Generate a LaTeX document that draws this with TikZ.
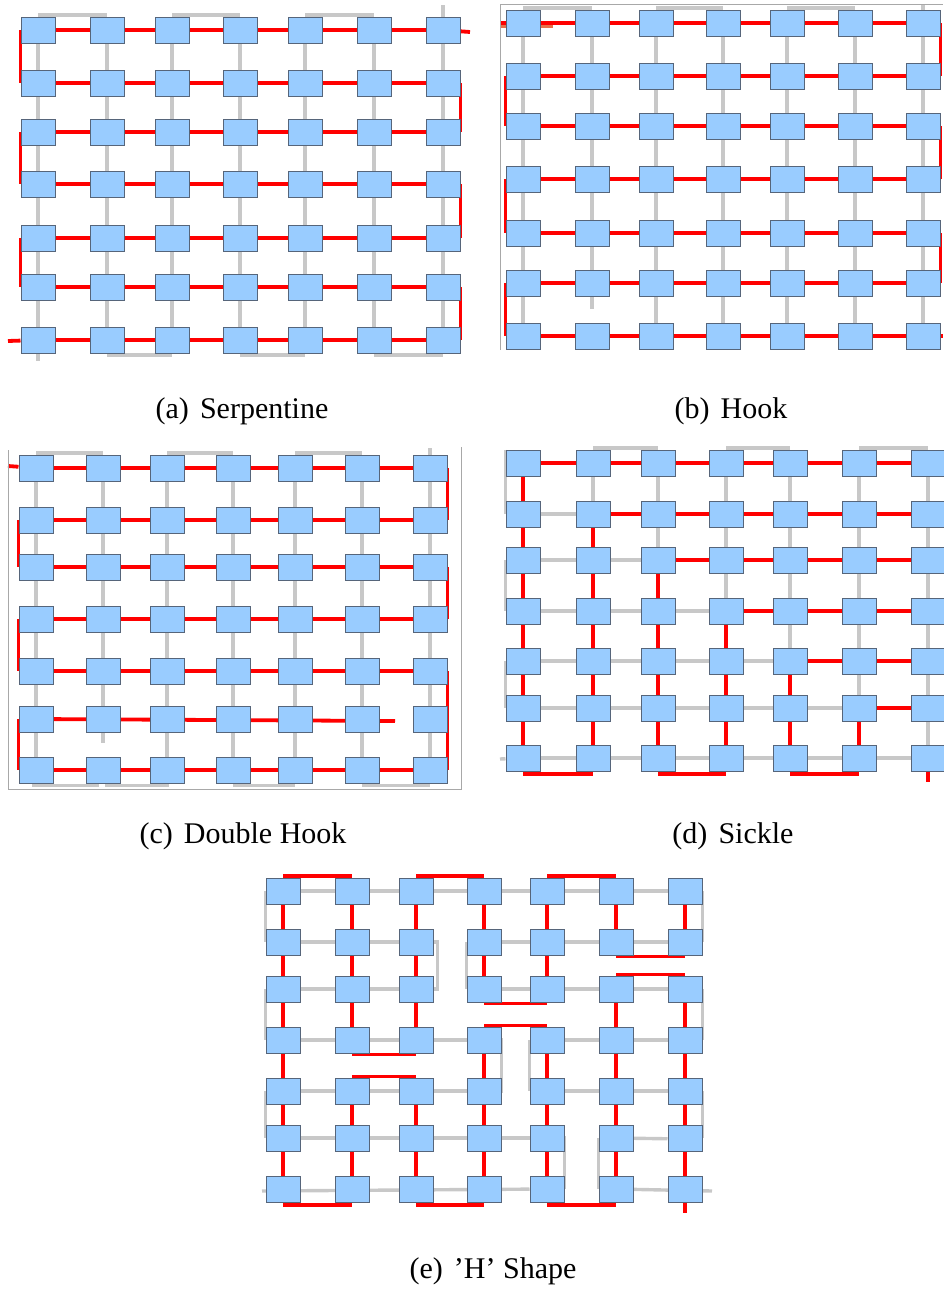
\documentclass[tikz,border=0pt]{standalone}
\usepackage{fontspec}
\setmainfont{Liberation Serif}
\usetikzlibrary{calc}
\pgfdeclarelayer{bg}
\pgfsetlayers{bg,main}
\definecolor{sqfill}{HTML}{99CCFF}
\definecolor{sqdraw}{HTML}{56657A}
\definecolor{redline}{HTML}{FF0000}
\definecolor{grayline}{HTML}{C8C8C8}
\definecolor{framegray}{HTML}{A8A8A8}
\definecolor{orangebit}{HTML}{E8704A}
\newcommand\mkgrid[3]{%
  \foreach \x [count=\i] in {#2} {%
    \foreach \y [count=\j] in {#3} {%
      \node[sq] (#1\j\i) at (\x,\y) {};
    }
  }%
}
\begin{document}
\begin{tikzpicture}[x=1pt,y=-1pt,
  sq/.style={draw=sqdraw,fill=sqfill,line width=1pt,minimum width=34pt,minimum height=26pt,inner sep=0pt},
  rd/.style={draw=redline,line width=3.8pt},
  gr/.style={draw=grayline,line width=3.4pt},
  frm/.style={draw=framegray,line width=0.9pt},
  captxt/.style={font=\fontsize{30}{36}\selectfont,inner sep=0pt}]
\useasboundingbox (0,0) rectangle (943,1291);

% ================= (a) Serpentine =================
\mkgrid{a}{38,107,172,240,305,374,443}{30,83,132,184,238,287,340}
\coordinate (atop) at (443,5);
\coordinate (abot) at (38,361);
\coordinate (aout) at (470,32);
\coordinate (ain) at (8,341);
\begin{pgfonlayer}{bg}
  \foreach \i in {1,...,7} \draw[gr] (a1\i) -- (a7\i);
  \draw[gr] (a17) -- (atop);
  \draw[gr] (a71) -- (abot);
  \draw[gr] ([yshift=1.5pt]a11.north) -- ([yshift=1.5pt]a12.north);
  \draw[gr] ([yshift=1.5pt]a13.north) -- ([yshift=1.5pt]a14.north);
  \draw[gr] ([yshift=1.5pt]a15.north) -- ([yshift=1.5pt]a16.north);
  \draw[gr] ([yshift=-1.5pt]a72.south) -- ([yshift=-1.5pt]a73.south);
  \draw[gr] ([yshift=-1.5pt]a74.south) -- ([yshift=-1.5pt]a75.south);
  \draw[gr] ([yshift=-1.5pt]a76.south) -- ([yshift=-1.5pt]a77.south);
  \foreach \j in {1,...,7} \draw[rd] (a\j1) -- (a\j7);
  \draw[rd] (a17) -- (aout);
  \draw[rd] (ain) -- (a71);
  \draw[rd] (a11.west) -- (a21.west);
  \draw[rd] (a31.west) -- (a41.west);
  \draw[rd] (a51.west) -- (a61.west);
  \draw[rd] (a27.east) -- (a37.east);
  \draw[rd] (a47.east) -- (a57.east);
  \draw[rd] (a67.east) -- (a77.east);
\end{pgfonlayer}
\node[captxt] (capa) at (242,411) {(a)\hspace{0.37em}Serpentine};

% ================= (b) Hook =================
\mkgrid{b}{523,592,656,723,787,855,923}{23,76,126,179,233,283,336}
\coordinate (bf1) at (500,350);
\coordinate (bf2) at (500,4);
\coordinate (bf3) at (943,4);
\coordinate (btop) at (923,5);
\coordinate (b2end) at (592,309);
\coordinate (bin) at (500,23);
\coordinate (bout) at (943,336);
\coordinate (bo1) at (500,26);
\coordinate (bo2) at (553,26);
\draw[frm] (bf1) -- (bf2) -- (bf3);
\begin{pgfonlayer}{bg}
  \foreach \i in {1,3,4,5,6,7} \draw[gr] (b1\i) -- (b7\i);
  \draw[gr] (b12) -- (b2end);
  \draw[gr] (b17) -- (btop);
  \draw[gr] ([yshift=1.5pt]b11.north) -- ([yshift=1.5pt]b12.north);
  \draw[gr] ([yshift=1.5pt]b13.north) -- ([yshift=1.5pt]b14.north);
  \draw[gr] ([yshift=1.5pt]b15.north) -- ([yshift=1.5pt]b16.north);
  \draw[orangebit,line width=3.5pt] (bo1) -- (bo2);
  \foreach \j in {1,...,7} \draw[rd] (b\j1) -- (b\j7);
  \draw[rd] (bin) -- (b11);
  \draw[rd] (b77) -- (bout);
  \draw[rd] (b17.east) -- (b27.east);
  \draw[rd] (b37.east) -- (b47.east);
  \draw[rd] (b57.east) -- (b67.east);
  \draw[rd] (b21.west) -- (b31.west);
  \draw[rd] (b41.west) -- (b51.west);
  \draw[rd] (b61.west) -- (b71.west);
\end{pgfonlayer}
\node[captxt] (capb) at (731,411) {(b)\hspace{0.37em}Hook};

% ================= (c) Double Hook =================
\mkgrid{c}{36,103,167,233,295,362,430}{468,520,567,619,671,719,770}
\coordinate (cf1) at (8,450);
\coordinate (cf2) at (8,789);
\coordinate (cf3) at (461,789);
\coordinate (cf4) at (461,447);
\coordinate (ctop) at (430,448);
\coordinate (c2end) at (103,743);
\coordinate (cin) at (8,466);
\coordinate (cstub) at (395,721);
\draw[frm] (cf1) -- (cf2) -- (cf3) -- (cf4);
\begin{pgfonlayer}{bg}
  \foreach \i in {1,3,4,5,6,7} \draw[gr] (c1\i) -- (c7\i);
  \draw[gr] (c12) -- (c2end);
  \draw[gr] (c17) -- (ctop);
  \draw[gr] ([yshift=1.5pt]c11.north) -- ([yshift=1.5pt]c12.north);
  \draw[gr] ([yshift=1.5pt]c13.north) -- ([yshift=1.5pt]c14.north);
  \draw[gr] ([yshift=1.5pt]c15.north) -- ([yshift=1.5pt]c16.north);
  \draw[gr] ([shift={(-4pt,-2pt)}]c71.south) -- ([shift={(-4pt,-2pt)}]c72.south);
  \draw[gr] ([shift={(2pt,-2pt)}]c72.south) -- ([shift={(2pt,-2pt)}]c73.south);
  \draw[gr] ([yshift=-2pt]c74.south) -- ([yshift=-2pt]c75.south);
  \draw[gr] ([yshift=-2pt]c76.south) -- ([yshift=-2pt]c77.south);
  \foreach \j in {1,2,3,4,5,7} \draw[rd] (c\j1) -- (c\j7);
  \draw[rd] (cin) -- (c11);
  \draw[rd] (c61) -- (cstub);
  \draw[rd] (c17.east) -- (c27.east);
  \draw[rd] (c37.east) -- (c47.east);
  \draw[rd] (c57.east) -- (c67.east);
  \draw[rd] (c67.east) -- (c77.east);
  \draw[rd] (c21.west) -- (c31.west);
  \draw[rd] (c41.west) -- (c51.west);
  \draw[rd] (c61.west) -- (c71.west);
\end{pgfonlayer}
\node[captxt] (capc) at (243,836) {(c)\hspace{0.37em}Double Hook};

% ================= (d) Sickle =================
\mkgrid{d}{523,593,658,726,790,859,928}{463,514,560,611,661,708,758}
\coordinate (dbl) at (500,759);
\coordinate (dstub) at (928,782);
\begin{pgfonlayer}{bg}
  \draw[gr] ([yshift=1.5pt]d12.north) -- ([yshift=1.5pt]d13.north);
  \draw[gr] ([yshift=1.5pt]d14.north) -- ([yshift=1.5pt]d15.north);
  \draw[gr] ([yshift=1.5pt]d16.north) -- ([yshift=1.5pt]d17.north);
  \foreach \c in {2,...,7} \draw[gr] (d1\c) -- (d\c\c);
  \foreach \r in {2,...,7} \draw[gr] (d\r1) -- (d\r\r);
  \draw[gr] (d11.north west) -- (d21.west);
  \draw[gr] (d31.west) -- (d41.west);
  \draw[gr] (d51.west) -- (d61.west);
  \draw[gr] (dbl) -- (d71);
  \foreach \r in {1,...,6} \draw[rd] (d\r\r) -- (d\r7);
  \foreach \c in {1,...,6} \draw[rd] (d\c\c) -- (d7\c);
  \draw[rd] (d77) -- (dstub);
  \draw[rd] ([yshift=-2.5pt]d71.south) -- ([yshift=-2.5pt]d72.south);
  \draw[rd] ([yshift=-2.5pt]d73.south) -- ([yshift=-2.5pt]d74.south);
  \draw[rd] ([yshift=-2.5pt]d75.south) -- ([yshift=-2.5pt]d76.south);
\end{pgfonlayer}
\node[captxt] (capd) at (733,836) {(d)\hspace{0.37em}Sickle};

% ================= (e) 'H' Shape =================
\mkgrid{e}{283,352,416,484,547,616,685}{891,942,989,1040,1091,1138,1189}
\coordinate (e7l) at (262,1191);
\coordinate (e7r) at (712,1191);
\coordinate (estub) at (685,1213);
\begin{pgfonlayer}{bg}
  % gray
  \draw[gr] (e11) -- (e17);
  \draw[gr] (e21) -- ([xshift=4pt]e23.east) -- ([xshift=4pt]e33.east) -- (e31);
  \draw[gr] (e24.west) -- (e34.west);
  \draw[gr] (e24) -- (e27);
  \draw[gr] (e34) -- (e37);
  \draw[gr] (e41) -- (e44.east) -- (e54.east) -- (e51);
  \draw[gr] (e45.west) -- (e55.west);
  \draw[gr] (e45) -- (e47);
  \draw[gr] (e55) -- (e57);
  \draw[gr] (e61) -- (e65.east) -- (e75.east);
  \draw[gr] (e7l) -- (e75);
  \draw[gr] (e66.west) -- (e76.west);
  \draw[gr] ([yshift=-3pt]e66) -- ([yshift=-3pt]e67);
  \draw[gr] (e76) -- (e7r);
  \draw[gr] (e11.west) -- (e21.west);
  \draw[gr] (e31.west) -- (e41.west);
  \draw[gr] (e51.west) -- (e61.west);
  \draw[gr] (e17.east) -- (e27.east);
  \draw[gr] (e37.east) -- (e47.east);
  \draw[gr] (e57.east) -- (e67.east);
  % red
  \draw[rd] ([yshift=1.5pt]e11.north) -- ([yshift=1.5pt]e12.north);
  \draw[rd] ([yshift=1.5pt]e13.north) -- ([yshift=1.5pt]e14.north);
  \draw[rd] ([yshift=1.5pt]e15.north) -- ([yshift=1.5pt]e16.north);
  \draw[rd] ([yshift=-2.5pt]e71.south) -- ([yshift=-2.5pt]e72.south);
  \draw[rd] ([yshift=-2.5pt]e73.south) -- ([yshift=-2.5pt]e74.south);
  \draw[rd] ([yshift=-2.5pt]e75.south) -- ([yshift=-2.5pt]e76.south);
  \draw[rd] (e11) -- (e71);
  \draw[rd] (e12) -- (e42);
  \draw[rd] (e52) -- (e72);
  \draw[rd] (e13) -- (e43);
  \draw[rd] (e53) -- (e73);
  \draw[rd] (e14) -- (e34);
  \draw[rd] (e44) -- (e74);
  \draw[rd] (e15) -- (e35);
  \draw[rd] (e45) -- (e75);
  \draw[rd] (e16) -- (e26);
  \draw[rd] (e36) -- (e76);
  \draw[rd] (e17) -- (e27);
  \draw[rd] (e37) -- (e77);
  \draw[rd] (e77) -- (estub);
  \draw[rd] ([yshift=-1pt]e42.south) -- ([yshift=-1pt]e43.south);
  \draw[rd] ([yshift=1pt]e52.north) -- ([yshift=1pt]e53.north);
  \draw[rd] ([yshift=-1pt]e34.south) -- ([yshift=-1pt]e35.south);
  \draw[rd] ([yshift=1pt]e44.north) -- ([yshift=1pt]e45.north);
  \draw[rd] ([yshift=-1pt]e26.south) -- ([yshift=-1pt]e27.south);
  \draw[rd] ([yshift=1pt]e36.north) -- ([yshift=1pt]e37.north);
\end{pgfonlayer}
\node[captxt] (cape) at (493,1271) {(e)\hspace{0.37em}’H’ Shape};
\end{tikzpicture}
\end{document}
